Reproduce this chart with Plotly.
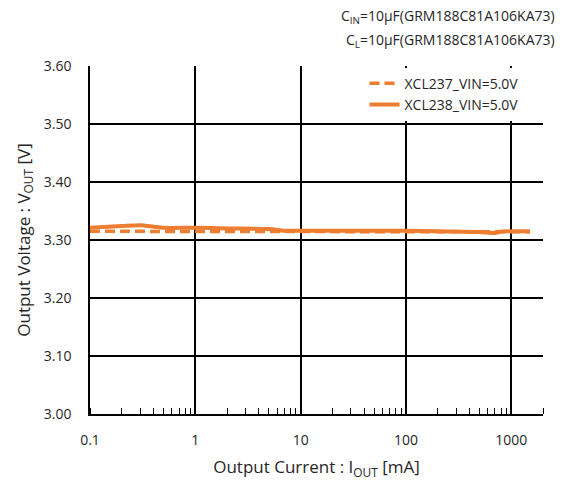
import plotly.graph_objects as go

# Data
iout_237 = [0.1, 0.2, 0.5, 1, 2, 5, 10, 20, 50, 100, 200, 500, 1000, 1500]
vout_237 = [3.315, 3.315, 3.315, 3.315, 3.315, 3.315, 3.314, 3.314, 3.314, 3.314, 3.314, 3.314, 3.314, 3.314]

iout_238 = [0.1, 0.2, 0.3, 0.4, 0.5, 1, 2, 5, 7, 10, 20, 50, 100, 200, 300, 500, 700, 800, 1000, 1500]
vout_238 = [3.321, 3.324, 3.3255, 3.323, 3.321, 3.321, 3.320, 3.319, 3.316, 3.316, 3.316, 3.316, 3.316,
            3.315, 3.3145, 3.314, 3.312, 3.3145, 3.315, 3.315]

x_tickvals = [0.1, 1, 10, 100, 1000]
x_ticktext = ["0.1", "1", "10", "100", "1000"]
y_tickvals = [3.00, 3.10, 3.20, 3.30, 3.40, 3.50, 3.60]

ORANGE = "#ED7D31"
FONT = "'Open Sans', sans-serif"
TXT = "#262626"

fig = go.Figure()
fig.add_trace(go.Scatter(x=iout_237, y=vout_237, mode="lines", name="XCL237_VIN=5.0V",
                         line=dict(color=ORANGE, width=3.5, dash="10px,5px")))
fig.add_trace(go.Scatter(x=iout_238, y=vout_238, mode="lines", name="XCL238_VIN=5.0V",
                         line=dict(color=ORANGE, width=4, shape="spline", smoothing=0.6)))

fig.update_layout(
    width=560, height=473,
    margin=dict(l=82, r=25, t=58, b=67, autoexpand=False),
    paper_bgcolor="white", plot_bgcolor="white",
    font=dict(family=FONT, size=14, color=TXT),
    showlegend=True,
    legend=dict(x=0.606, xanchor="left", y=0.995, yanchor="top", bgcolor="white",
                font=dict(size=14, color=TXT), tracegroupgap=2),
    annotations=[
        dict(text="C<sub>IN</sub>=10µF(GRM188C81A106KA73)", xref="paper", yref="paper",
             x=1.031, y=1.141, xanchor="right", yanchor="middle", showarrow=False,
             font=dict(size=14)),
        dict(text="C<sub>L</sub>=10µF(GRM188C81A106KA73)", xref="paper", yref="paper",
             x=1.031, y=1.072, xanchor="right", yanchor="middle", showarrow=False,
             font=dict(size=14)),
    ],
)

fig.update_xaxes(
    type="log", range=[-1, 3.301],
    tickvals=x_tickvals, ticktext=x_ticktext, ticks="", ticklabelstandoff=12,
    showgrid=True, gridcolor="black", gridwidth=1.5,
    showline=True, linecolor="black", linewidth=1.5,
    minor=dict(ticks="inside", ticklen=6, tickcolor="black", tickwidth=1.2,
               dtick="D1", showgrid=False),
    title=dict(text="Output Current : I<sub>OUT</sub> [mA]", standoff=14),
    zeroline=False, automargin=False,
)
fig.update_yaxes(
    range=[3.0, 3.6], tickvals=y_tickvals, tickformat=".2f", ticks="", ticklabelstandoff=14,
    showgrid=True, gridcolor="black", gridwidth=1.5,
    showline=True, linecolor="black", linewidth=1.5,
    title=dict(text="Output Voltage : V<sub>OUT</sub> [V]", standoff=9),
    zeroline=False, automargin=False,
)

fig.write_html("out.html")
